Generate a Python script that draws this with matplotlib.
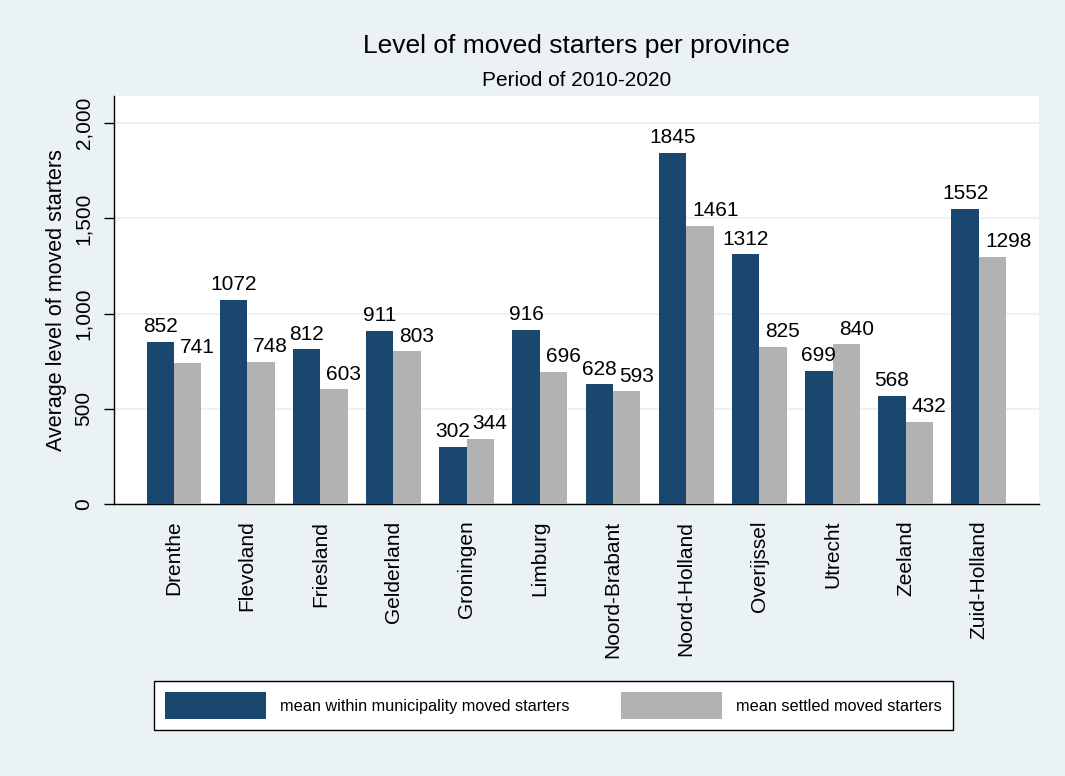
import matplotlib
matplotlib.use('Agg')
from matplotlib import pyplot as plt
import numpy as np

plt.rcParams['font.family'] = ['Liberation Sans', 'DejaVu Sans']

# Data
provinces = ['Drenthe', 'Flevoland', 'Friesland', 'Gelderland', 'Groningen', 'Limburg',
             'Noord-Brabant', 'Noord-Holland', 'Overijssel', 'Utrecht', 'Zeeland', 'Zuid-Holland']
within_moved = [852, 1072, 812, 911, 302, 916, 628, 1845, 1312, 699, 568, 1552]
settled_moved = [741, 748, 603, 803, 344, 696, 593, 1461, 825, 840, 432, 1298]
series_names = ['mean within municipality moved starters', 'mean settled moved starters']

bg = '#eaf2f3'
blue = '#1a476f'
grey = '#b2b2b2'

fig = plt.figure(figsize=(10.65, 7.76), dpi=100, facecolor=bg)
ax = fig.add_axes([0.107, 0.3505, 0.8685, 0.5255])
ax.set_facecolor('white')

x = np.arange(len(provinces))
w = 0.375
b1 = ax.bar(x - w / 2, within_moved, w, color=blue, label=series_names[0], zorder=3)
b2 = ax.bar(x + w / 2, settled_moved, w, color=grey, label=series_names[1], zorder=3)

# value labels: blue ones centred, grey ones pushed a bit to the right
for rect, v in zip(b1, within_moved):
    ax.annotate(str(v), (rect.get_x() + rect.get_width() / 2, v),
                xytext=(0, 4), textcoords='offset points',
                ha='center', va='bottom', fontsize=15, zorder=4)
for rect, v in zip(b2, settled_moved):
    ax.annotate(str(v), (rect.get_x() + rect.get_width() / 2, v),
                xytext=(-5.5, 4), textcoords='offset points',
                ha='left', va='bottom', fontsize=15, zorder=4)

ax.set_xlim(-0.82, 11.82)
ax.set_ylim(0, 2142)
ax.set_yticks([0, 500, 1000, 1500, 2000])
ax.set_yticklabels(['0', '500', '1,000', '1,500', '2,000'], rotation=90, va='center')
ax.tick_params(axis='y', length=7, width=1, labelsize=15, pad=8)
ax.set_xticks(x)
ax.set_xticklabels(provinces, rotation=90, va='top', ha='center')
ax.tick_params(axis='x', length=0, labelsize=15, pad=12)
ax.grid(axis='y', color=bg, linewidth=1.5, zorder=1)

for side in ['top', 'right']:
    ax.spines[side].set_visible(False)
for side in ['left', 'bottom']:
    ax.spines[side].set_color('black')
    ax.spines[side].set_linewidth(1)

ax.set_ylabel('Average level of moved starters', fontsize=15.5, labelpad=5)

fig.text(0.5413, 0.932, 'Level of moved starters per province', ha='center', va='baseline', fontsize=19)
fig.text(0.5413, 0.889, 'Period of 2010-2020', ha='center', va='baseline', fontsize=15)

leg = fig.legend(handles=[b1, b2], loc='center', bbox_to_anchor=(0.5195, 0.0909), ncol=2,
                 fontsize=11.7, handlelength=6.2, handleheight=2.2, handletextpad=0.85,
                 columnspacing=3.2, borderpad=0.68, fancybox=False, framealpha=1,
                 edgecolor='black')
leg.get_frame().set_linewidth(1)

fig.savefig('out.png', dpi=100, facecolor=bg)
